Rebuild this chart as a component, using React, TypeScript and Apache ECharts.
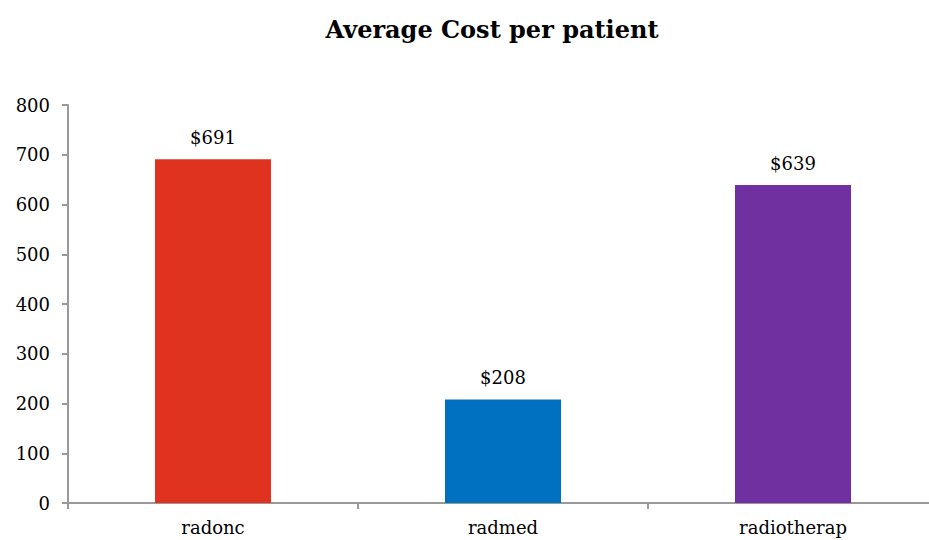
import React, { useEffect, useRef } from "react";
import * as echarts from "echarts";

const categories = ["radonc", "radmed", "radiotherap"];
const values = [691, 208, 639];
const barColors = ["#E0331F", "#0070C0", "#7030A0"];
const chartTitle = "Average Cost per patient";

export default function App() {
  const ref = useRef<HTMLDivElement>(null);
  useEffect(() => {
    if (!ref.current) return;
    const chart = echarts.init(ref.current, undefined, { renderer: "svg" });
    const font = "'DejaVu Serif', Georgia, serif";
    chart.setOption({
      animation: false,
      backgroundColor: "#ffffff",
      title: {
        text: chartTitle,
        left: 487,
        top: 12,
        textAlign: "center",
        textStyle: { fontFamily: font, fontSize: 24, fontWeight: "bold", color: "#000" },
      },
      grid: { left: 68, top: 105, width: 870, height: 398, containLabel: false },
      xAxis: {
        type: "category",
        data: categories,
        axisLine: { lineStyle: { color: "#999999", width: 2 } },
        axisTick: { show: true, length: 6, lineStyle: { color: "#999999", width: 2 } },
        axisLabel: { fontFamily: font, fontSize: 18, color: "#000", margin: 15 },
      },
      yAxis: {
        type: "value",
        min: 0,
        max: 800,
        interval: 100,
        splitLine: { show: false },
        axisLine: { show: true, lineStyle: { color: "#999999", width: 2 } },
        axisTick: { show: true, length: 6, lineStyle: { color: "#999999", width: 2 } },
        axisLabel: { fontFamily: font, fontSize: 18, color: "#000", margin: 18 },
      },
      series: [
        {
          type: "bar",
          barWidth: "40%",
          data: values.map((v, i) => ({ value: v, itemStyle: { color: barColors[i] } })),
          label: {
            show: true,
            position: "top",
            distance: 13,
            formatter: (p: any) => "$" + p.value,
            fontFamily: font,
            fontSize: 18,
            color: "#000",
          },
        },
      ],
    });
    return () => chart.dispose();
  }, []);
  return (
    <div
      style={{
        position: "fixed",
        left: 0,
        top: 0,
        width: 929,
        height: 540,
        overflow: "hidden",
        background: "#fff",
      }}
    >
      <div ref={ref} style={{ width: 945, height: 540 }} />
    </div>
  );
}
